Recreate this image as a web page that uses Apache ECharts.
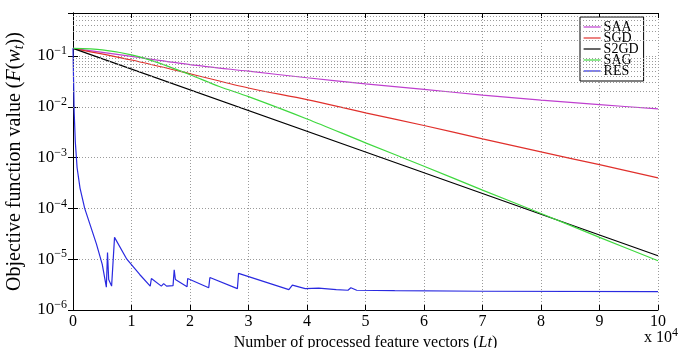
<!DOCTYPE html>
<html>
<head>
<meta charset="utf-8">
<script src="https://cdn.jsdelivr.net/npm/echarts@6/dist/echarts.min.js"></script>
<style>
  html, body { margin: 0; padding: 0; background: #fff; }
  #chart { width: 684px; height: 348px; }
</style>
</head>
<body>
<div id="chart"></div>
<script>
// x in units of 10^4 processed feature vectors
const saaX = [0, 1, 2, 3, 4, 5, 6, 7, 8, 9, 10];
const saaY = [0.141, 0.0977, 0.0676, 0.0501, 0.0372, 0.0282, 0.0219, 0.0170, 0.0135, 0.0110, 0.0091];

const sgdX = [0, 1, 2, 3, 4, 5, 6, 7, 8, 9, 10];
const sgdY = [0.141, 0.0832, 0.0447, 0.0234, 0.0138, 0.00759, 0.00427, 0.00234, 0.00129, 0.000724, 0.000398];

const s2gdX = [0, 5, 10];
const s2gdY = [0.141, 0.00129, 0.0000117];

const sagX = [0, 0.5, 1, 1.5, 2, 2.5, 3, 4, 5, 6, 7, 8, 9, 10];
const sagY = [0.141, 0.132, 0.105, 0.0708, 0.0427, 0.0251, 0.0158, 0.00575, 0.00195, 0.000676, 0.000229, 0.0000794, 0.0000269, 0.00000933];

const resX = [0, 0.01, 0.02, 0.04, 0.07, 0.12, 0.2, 0.3, 0.4, 0.5, 0.57, 0.59, 0.61, 0.66, 0.71, 0.92, 1.14, 1.32, 1.34, 1.51, 1.55, 1.6,
  1.71, 1.73, 1.75, 1.95, 1.96, 2.32, 2.34, 2.81, 2.83, 3.69, 3.75, 3.97, 4.2, 4.5, 4.7, 4.75, 4.85, 5.5, 7, 10];
const resY = [0.141, 0.0316, 0.0079, 0.002, 6.3e-4, 2.51e-4, 1.0e-4, 4.47e-5, 2.0e-5, 7.9e-6, 2.82e-6, 1.35e-5, 3.98e-6, 2.95e-6,
  2.69e-5, 1.0e-5, 5.0e-6, 2.95e-6, 4.17e-6, 2.95e-6, 3.31e-6, 2.95e-6,
  3.02e-6, 6.17e-6, 3.98e-6, 2.88e-6, 4.17e-6, 2.75e-6, 4.37e-6, 2.63e-6, 5.25e-6, 2.51e-6, 3.09e-6, 2.63e-6, 2.69e-6,
  2.51e-6, 2.45e-6, 2.75e-6, 2.45e-6, 2.4e-6, 2.34e-6, 2.29e-6];

const yMin = 1e-6;
const yMax = 0.7;
const decades = [-6, -5, -4, -3, -2, -1];
const minorSteps = [2, 3, 4, 5, 6, 7, 8, 9];

const font = 'Liberation Serif';

function pairs(xs, ys) {
  return xs.map((x, i) => [x, ys[i]]);
}

// log minor grid (MATLAB style)
let minorLines = [];
decades.forEach(d => {
  minorSteps.forEach(k => {
    let v = k * Math.pow(10, d);
    if (v < yMax) minorLines.push({ yAxis: v });
  });
});

let myChart = echarts.init(document.getElementById('chart'));
let option;

const gridDots = { color: '#9a9a9a', type: [1, 2], width: 1 };

option = {
  animation: false,
  backgroundColor: '#fff',
  grid: { left: 73, right: 26, top: 13, bottom: 38, outerBoundsMode: 'none' },
  legend: {
    data: ['SAA', 'SGD', 'S2GD', 'SAG', 'RES'],
    orient: 'vertical',
    left: 580,
    top: 17,
    itemWidth: 17,
    itemHeight: 10,
    itemGap: -3,
    padding: [3, 5, 3, 3],
    backgroundColor: '#fff',
    borderColor: '#000',
    borderWidth: 1,
    borderRadius: 0,
    itemStyle: { opacity: 0 },
    lineStyle: { width: 1.2 },
    textStyle: { fontFamily: font, fontSize: 14, color: '#000', padding: [0, 0, 0, -2] }
  },
  xAxis: [
    {
      type: 'value',
      min: 0,
      max: 10,
      interval: 1,
      name: 'Number of processed feature vectors ({i|Lt})',
      nameLocation: 'middle',
      nameGap: 12,
      nameTextStyle: {
        fontFamily: font, fontSize: 16, color: '#000',
        rich: { i: { fontFamily: font, fontSize: 16, fontStyle: 'italic', color: '#000' } }
      },
      axisLine: { show: true, lineStyle: { color: '#000', width: 1 } },
      axisTick: { inside: true, length: 5, lineStyle: { color: '#000' } },
      axisLabel: { fontFamily: font, fontSize: 16, color: '#000', margin: 4 },
      splitLine: { show: true, lineStyle: gridDots }
    },
    {
      type: 'value',
      position: 'top',
      min: 0,
      max: 10,
      interval: 1,
      axisLine: { show: true, lineStyle: { color: '#000', width: 1 } },
      axisTick: { inside: true, length: 5, lineStyle: { color: '#000' } },
      axisLabel: { show: false },
      splitLine: { show: false }
    }
  ],
  yAxis: [
    {
      type: 'log',
      logBase: 10,
      min: yMin,
      max: yMax,
      name: 'Objective function value ({i|F}({i|w}{sub|t}))',
      nameLocation: 'middle',
      nameGap: 47,
      nameTextStyle: {
        fontFamily: font, fontSize: 20, color: '#000',
        rich: {
          i: { fontFamily: font, fontSize: 20, fontStyle: 'italic', color: '#000' },
          sub: { fontFamily: font, fontSize: 14, fontStyle: 'italic', color: '#000', padding: [8, 0, 0, 0] }
        }
      },
      axisLine: { show: true, lineStyle: { color: '#000', width: 1 } },
      axisTick: { inside: true, length: 5, lineStyle: { color: '#000' } },
      axisLabel: {
        margin: 6,
        fontFamily: font,
        fontSize: 17,
        color: '#000',
        formatter: function (v) {
          let e = Math.log10(v);
          if (Math.abs(e - Math.round(e)) > 1e-6) return '';
          return '10{sup|\u2212' + Math.abs(Math.round(e)) + '}';
        },
        rich: {
          sup: { fontFamily: font, fontSize: 12, color: '#000', padding: [0, 0, 10, 0] }
        }
      },
      splitLine: { show: true, lineStyle: gridDots }
    },
    {
      type: 'log',
      logBase: 10,
      min: yMin,
      max: yMax,
      position: 'right',
      axisLine: { show: true, lineStyle: { color: '#000', width: 1 } },
      axisTick: { inside: true, length: 5, lineStyle: { color: '#000' } },
      axisLabel: { show: false },
      splitLine: { show: false }
    }
  ],
  graphic: [
    {
      type: 'text',
      right: 6,
      top: 327,
      style: {
        text: 'x 10{sup|4}',
        fontFamily: font,
        fontSize: 16,
        fill: '#000',
        rich: { sup: { fontFamily: font, fontSize: 12, fill: '#000', padding: [0, 0, 9, 0] } }
      }
    }
  ],
  series: [
    {
      name: 'grid',
      type: 'line',
      data: [],
      silent: true,
      markLine: {
        silent: true,
        symbol: 'none',
        label: { show: false },
        lineStyle: gridDots,
        data: minorLines
      }
    },
    {
      name: 'SAA', type: 'line', symbol: 'none', smooth: 0.3,
      color: '#bf3fcf', lineStyle: { width: 1.2 },
      data: pairs(saaX, saaY)
    },
    {
      name: 'SGD', type: 'line', symbol: 'none', smooth: 0.3,
      color: '#e0302c', lineStyle: { width: 1.2 },
      data: pairs(sgdX, sgdY)
    },
    {
      name: 'S2GD', type: 'line', symbol: 'none',
      color: '#000000', lineStyle: { width: 1.2 },
      data: pairs(s2gdX, s2gdY)
    },
    {
      name: 'SAG', type: 'line', symbol: 'none', smooth: 0.3,
      color: '#3fd83f', lineStyle: { width: 1.2 },
      data: pairs(sagX, sagY)
    },
    {
      name: 'RES', type: 'line', symbol: 'none',
      color: '#2a2ae0', lineStyle: { width: 1.2 },
      data: pairs(resX, resY)
    }
  ]
};

option && myChart.setOption(option);
</script>
</body>
</html>
